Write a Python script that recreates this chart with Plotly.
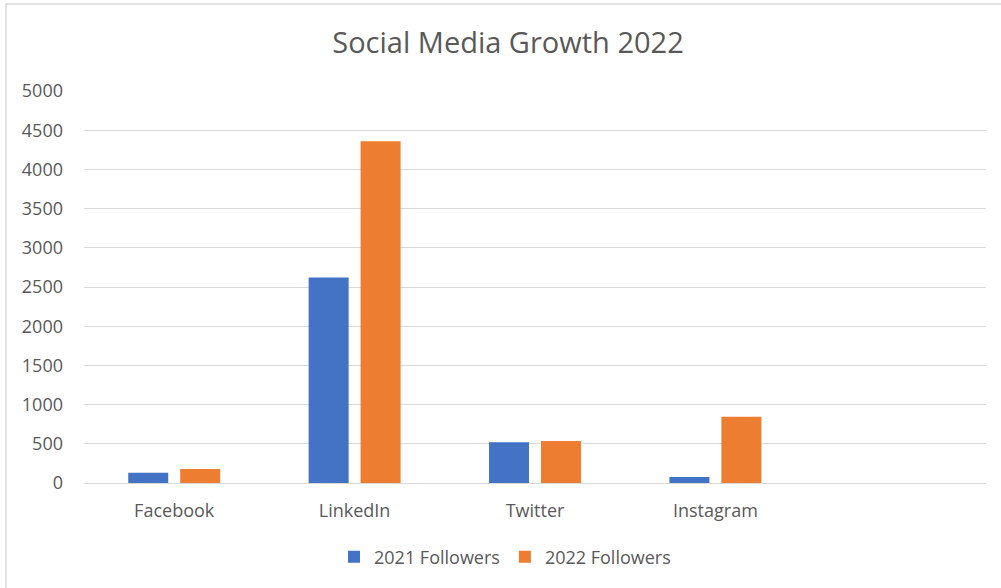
import plotly.graph_objects as go

categories = ["Facebook", "LinkedIn", "Twitter", "Instagram"]
followers_2021 = [130, 2620, 520, 75]
followers_2022 = [180, 4360, 535, 845]
series_names = ["2021 Followers", "2022 Followers"]
y_ticks = [0, 500, 1000, 1500, 2000, 2500, 3000, 3500, 4000, 4500, 5000]

FONT = "Open Sans"
GREY = "#595959"

W, H = 1001, 588
# target plot area in page pixels
PL, PR, PT, PB = 84, 986, 91, 483
ml, mr, mt, mb = PL, W - PR, PT, H - PB
pw = PR - PL
ph = PB - PT

def px_x(X):  # pixel -> paper x
    return (X - PL) / pw

def px_y(Y):  # pixel -> paper y
    return (PB - Y) / ph

def cx(X):  # pixel -> container x
    return X / W

def cy(Y):  # pixel -> container y
    return 1 - Y / H

fig = go.Figure()
fig.add_trace(go.Bar(x=categories, y=followers_2021, name=series_names[0],
                     marker=dict(color="#4472C4", line=dict(width=0))))
fig.add_trace(go.Bar(x=categories, y=followers_2022, name=series_names[1],
                     marker=dict(color="#ED7D31", line=dict(width=0))))

fig.update_layout(
    width=W, height=H,
    margin=dict(l=ml, r=mr, t=mt, b=mb, pad=0),
    paper_bgcolor="white", plot_bgcolor="white",
    barmode="group", bargap=0.424, bargroupgap=0.23,
    hovermode=False,
    title=dict(text="Social Media Growth 2022", xref="container", x=cx(508), xanchor="center",
               yref="container", y=cy(43), yanchor="middle",
               font=dict(family=FONT, size=29, color=GREY)),
    font=dict(family=FONT, size=18, color=GREY),
    legend=dict(orientation="h", xref="container", x=cx(505), xanchor="center",
                yref="container", y=cy(557), yanchor="middle",
                font=dict(family=FONT, size=18, color=GREY),
                traceorder="normal"),
    xaxis=dict(range=[-0.5, 4.5], showgrid=False, showline=False, ticks="",
               ticklabelstandoff=15,
               tickfont=dict(family=FONT, size=18, color=GREY), fixedrange=True),
    yaxis=dict(range=[0, 5000], tickvals=y_ticks, showgrid=True, gridcolor="#D9D9D9",
               gridwidth=1, zeroline=True, zerolinecolor="#D9D9D9", zerolinewidth=1,
               showline=False, ticks="", ticklabelstandoff=20,
               tickfont=dict(family=FONT, size=18, color=GREY), fixedrange=True),
    shapes=[dict(type="rect", xref="paper", yref="paper",
                 x0=px_x(6), x1=px_x(1100), y0=px_y(700), y1=px_y(4),
                 line=dict(color="#D9D9D9", width=1.5), fillcolor="rgba(0,0,0,0)", layer="below")],
)

fig.write_html("out.html",
               config={"displayModeBar": False, "staticPlot": True},
               post_script="document.body.style.margin='0';document.body.style.overflow='hidden';")
